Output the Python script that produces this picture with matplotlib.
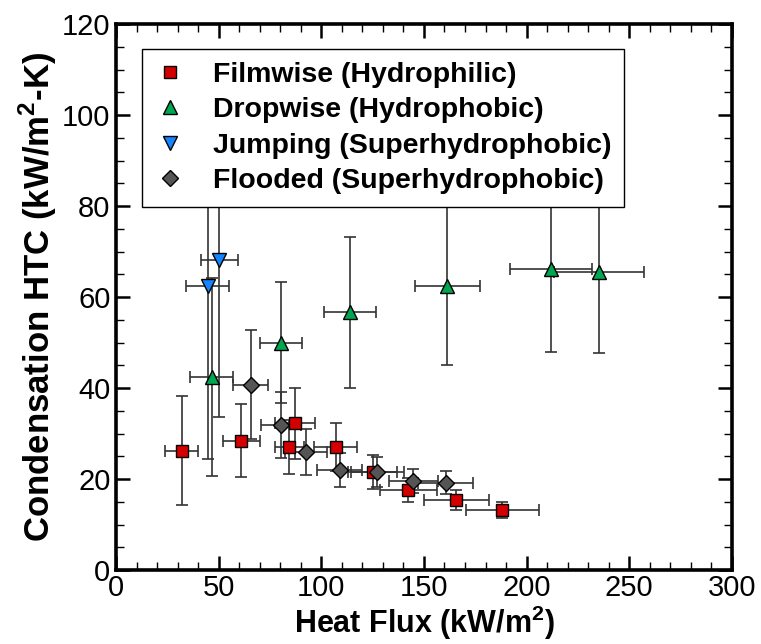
import numpy as np
import matplotlib
matplotlib.use("Agg")
import matplotlib.pyplot as plt
from matplotlib.ticker import MultipleLocator

plt.rcParams['font.family'] = ['Liberation Sans', 'DejaVu Sans']
plt.rcParams['mathtext.fontset'] = 'custom'
plt.rcParams['mathtext.rm'] = 'Liberation Sans'
plt.rcParams['mathtext.bf'] = 'Liberation Sans:bold'

# heat flux (kW/m^2), HTC (kW/m^2-K) and their uncertainties
film_q = [32.1, 61.0, 84.4, 87.0, 107.0, 125.0, 142.4, 165.8, 188.2]
film_h = [26.2, 28.4, 27.0, 32.2, 27.1, 21.5, 17.6, 15.3, 13.2]
film_dq = [8.0, 9.0, 7.0, 9.7, 10.4, 12.0, 14.0, 15.8, 17.6]
film_dh = [12.0, 8.0, 6.0, 7.8, 5.3, 3.7, 2.7, 2.2, 1.8]

drop_q = [46.6, 80.4, 114.0, 161.4, 211.7, 235.4]
drop_h = [42.4, 50.0, 56.6, 62.5, 66.2, 65.6]
drop_dq = [10.5, 10.4, 12.7, 16.0, 20.0, 22.0]
drop_dh = [21.7, 13.4, 16.6, 17.5, 18.2, 18.0]

jump_q = [44.6, 50.3]
jump_h = [62.4, 68.1]
jump_dq = [10.3, 8.9]
jump_dh = [38.0, 34.4]

flood_q = [65.7, 80.4, 92.5, 108.9, 127.3, 144.8, 160.5]
flood_h = [40.7, 31.9, 25.9, 22.0, 21.5, 19.6, 19.2]
flood_dq = [8.5, 9.8, 10.3, 11.0, 13.0, 12.0, 13.5]
flood_dh = [12.0, 7.3, 5.0, 3.7, 3.3, 2.7, 2.5]

series = [
    (film_q, film_h, film_dq, film_dh, 's', '#d40000', 8.6, 'Filmwise (Hydrophilic)'),
    (drop_q, drop_h, drop_dq, drop_dh, '^', '#00a651', 10, 'Dropwise (Hydrophobic)'),
    (jump_q, jump_h, jump_dq, jump_dh, 'v', '#1485ff', 10, 'Jumping (Superhydrophobic)'),
    (flood_q, flood_h, flood_dq, flood_dh, 'D', '#555555', 8.0, 'Flooded (Superhydrophobic)'),
]

fig = plt.figure(figsize=(7.61, 6.44), dpi=100)
ax = fig.add_axes([0.1524, 0.1149, 0.8094, 0.8478])

# error bars first, markers drawn over all of them
for q, h, dq, dh, m, c, ms, lab in series:
    ax.errorbar(q, h, xerr=dq, yerr=dh, fmt='none', ecolor='#333333',
                elinewidth=1.2, capsize=4.3, capthick=1.2, zorder=2)
for q, h, dq, dh, m, c, ms, lab in series:
    ax.plot(q, h, linestyle='none', marker=m, markersize=ms, markerfacecolor=c,
            markeredgecolor='black', markeredgewidth=1.0, label=lab, zorder=3)

ax.set_xlim(0, 300)
ax.set_ylim(0, 120)
ax.xaxis.set_major_locator(MultipleLocator(50))
ax.xaxis.set_minor_locator(MultipleLocator(10))
ax.yaxis.set_major_locator(MultipleLocator(20))
ax.yaxis.set_minor_locator(MultipleLocator(5))
ax.tick_params(which='both', direction='in', top=True, right=True, labelsize=21, pad=4)
ax.tick_params(axis='x', pad=3)
ax.tick_params(which='major', length=10, width=1.8)
ax.tick_params(which='minor', length=6, width=1.0)
for sp in ax.spines.values():
    sp.set_linewidth(2.6)

xl = ax.set_xlabel(r'Heat Flux (kW/m$^\mathbf{2}$)', fontsize=22, fontweight='bold')
xl.set_va('bottom')
ax.xaxis.set_label_coords(0.5, -0.1315)
ax.set_ylabel(r'Condensation HTC (kW/m$^\mathbf{2}$-K)', fontsize=25, fontweight='bold', labelpad=2)

leg = ax.legend(loc='upper left', bbox_to_anchor=(0.042, 0.954), borderaxespad=0,
                prop={'size': 20.5, 'weight': 'bold'}, frameon=True, fancybox=False,
                edgecolor='black', framealpha=1, borderpad=0.45, labelspacing=0.33,
                handlelength=1.1, handletextpad=0.95, numpoints=1)
leg.get_frame().set_linewidth(1.0)
leg.set_zorder(5)

fig.savefig('out.png', dpi=100)
